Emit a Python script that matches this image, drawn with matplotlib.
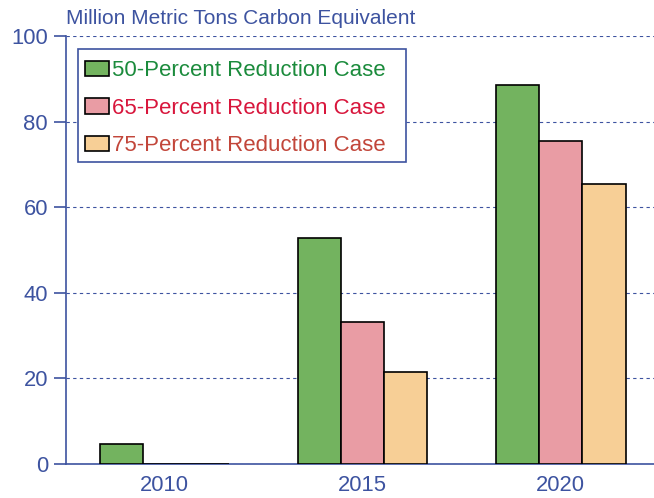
import matplotlib
matplotlib.use("Agg")
import matplotlib.pyplot as plt
from matplotlib.patches import Rectangle
import numpy as np

years = ["2010", "2015", "2020"]
series_names = ["50-Percent Reduction Case", "65-Percent Reduction Case", "75-Percent Reduction Case"]
val_50 = [4.7, 52.8, 88.6]
val_65 = [0.0, 33.2, 75.5]
val_75 = [0.0, 21.5, 65.4]
yticks = [0, 20, 40, 60, 80, 100]
title = "Million Metric Tons Carbon Equivalent"

plt.rcParams['font.family'] = ['Liberation Sans', 'DejaVu Sans']
axc = "#3d53a0"
fills = ["#73b35f", "#e99ca4", "#f7cf96"]
txtc = ["#1b8b3c", "#d8163c", "#c2463a"]

W, H = 654, 498
fig = plt.figure(figsize=(W / 100, H / 100), dpi=100)
ax = fig.add_axes([66/W, 34/H, 1 - 66/W, 428/H])

x = np.arange(len(years))
w = 0.218
for i, vals in enumerate([val_50, val_65, val_75]):
    ax.bar(x + (i - 1) * w, vals, width=w, color=fills[i], edgecolor="black",
           linewidth=1.2, label=series_names[i], zorder=3)

ax.set_xlim(-0.497, 2.47)
ax.set_ylim(0, 100)
ax.set_yticks(yticks)
ax.set_xticks(x)
ax.set_xticklabels(years)
ax.grid(axis="y", color=axc, linestyle=(0, (3, 3)), linewidth=0.8, zorder=0)
for s in ["top", "right"]:
    ax.spines[s].set_visible(False)
for s in ["left", "bottom"]:
    ax.spines[s].set_color(axc)
    ax.spines[s].set_linewidth(1.2)
ax.tick_params(axis="y", colors=axc, labelsize=15.8, length=9, width=1.2, pad=4)
ax.tick_params(axis="x", colors=axc, labelsize=15.8, length=0, pad=8)

fig.text(66/W, 1 - 18/H, title, color=axc, fontsize=15, va="center", ha="left")

# legend frame
frame = Rectangle((78/W, 1 - 162/H), (406 - 78)/W, (162 - 49.5)/H,
                  transform=fig.transFigure, facecolor="white",
                  edgecolor=axc, linewidth=1.2, zorder=4, clip_on=False)
ax.add_artist(frame)
leg = ax.legend(loc="upper left", bbox_to_anchor=(85/W, 1 - 60/H),
                bbox_transform=fig.transFigure, fontsize=16,
                frameon=False, handlelength=1.08,
                handleheight=0.68, handletextpad=0.15, labelspacing=0.75, borderpad=0,
                borderaxespad=0)
leg.set_zorder(5)
for t, c in zip(leg.get_texts(), txtc):
    t.set_color(c)

fig.savefig("out.png", dpi=100)
